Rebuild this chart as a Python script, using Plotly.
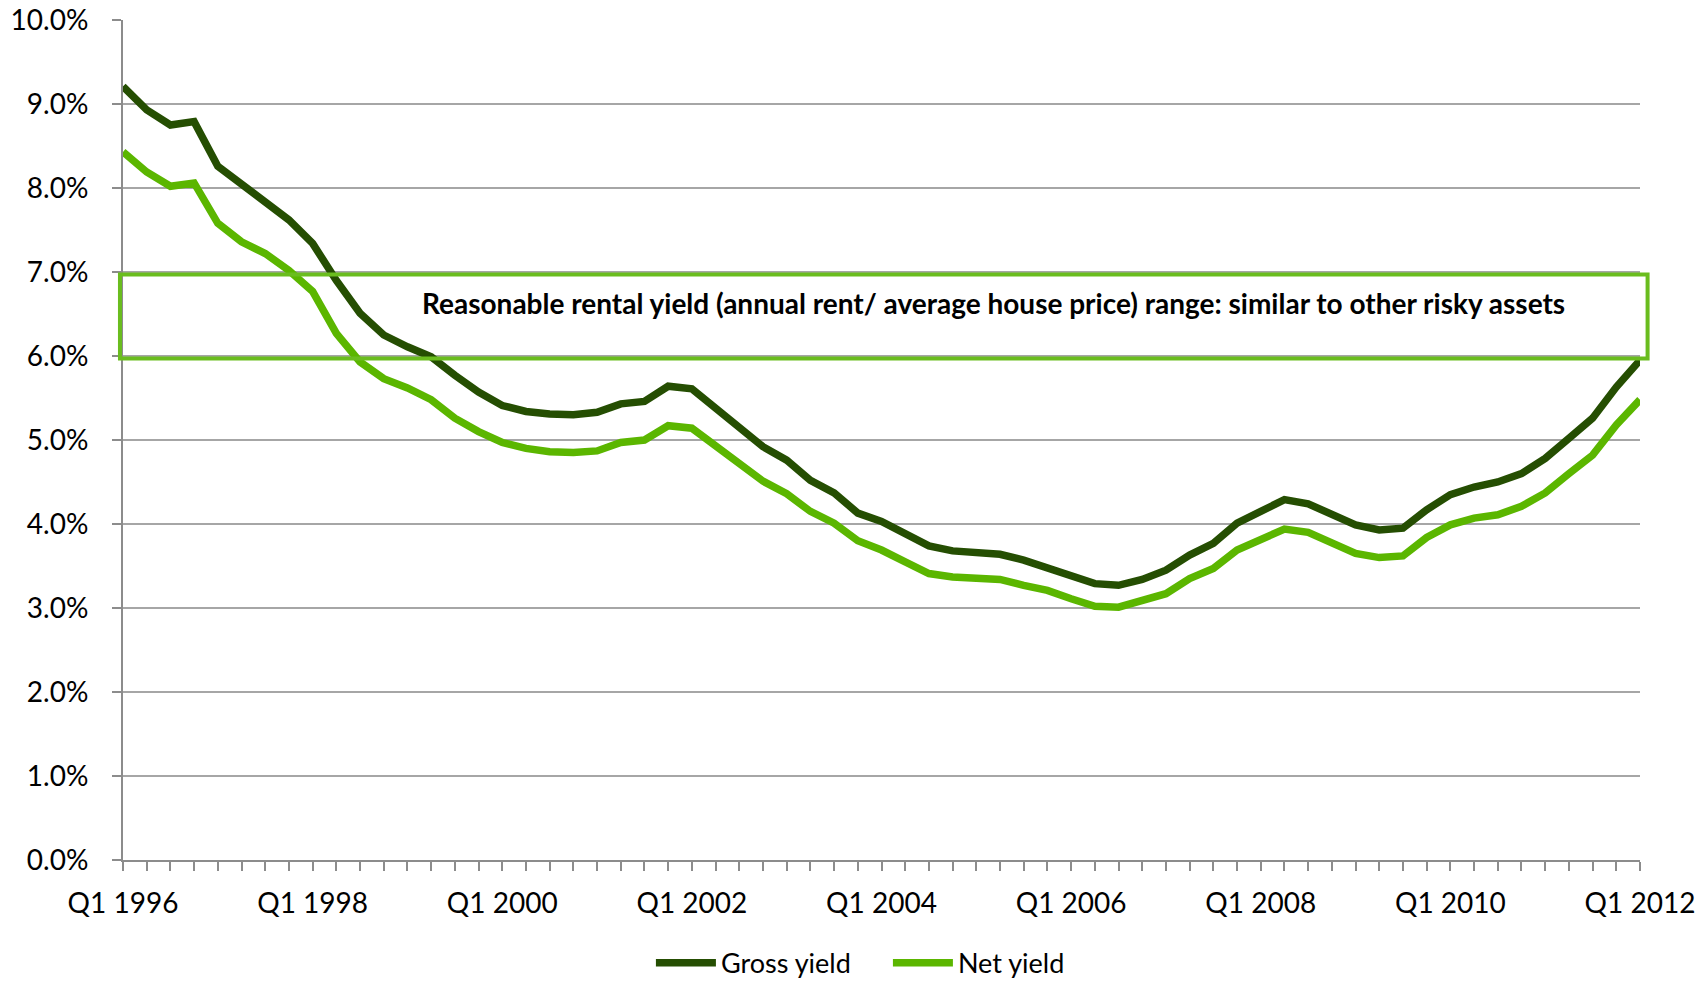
import plotly.graph_objects as go

quarters = list(range(65))
tick_positions = [0, 8, 16, 24, 32, 40, 48, 56, 64]
tick_labels = ["Q1 1996", "Q1 1998", "Q1 2000", "Q1 2002", "Q1 2004",
               "Q1 2006", "Q1 2008", "Q1 2010", "Q1 2012"]

gross_yield = [9.21, 8.93, 8.75, 8.79, 8.26, 8.04, 7.84, 7.62, 7.34, 6.90,
               6.51, 6.25, 6.11, 5.99, 5.77, 5.57, 5.41, 5.34, 5.31, 5.30,
               5.33, 5.43, 5.46, 5.64, 5.61, 5.38, 5.16, 4.92, 4.76, 4.52,
               4.37, 4.13, 4.03, 3.89, 3.74, 3.68, 3.66, 3.64, 3.57, 3.48,
               3.38, 3.29, 3.27, 3.34, 3.45, 3.63, 3.77, 4.01, 4.15, 4.29,
               4.24, 4.11, 3.99, 3.93, 3.95, 4.17, 4.35, 4.44, 4.50, 4.60,
               4.78, 5.02, 5.26, 5.63, 5.95]

net_yield = [8.43, 8.19, 8.02, 8.06, 7.58, 7.36, 7.22, 7.02, 6.77, 6.27,
             5.93, 5.73, 5.62, 5.48, 5.26, 5.10, 4.97, 4.90, 4.86, 4.85,
             4.87, 4.97, 5.00, 5.17, 5.14, 4.92, 4.72, 4.51, 4.36, 4.15,
             4.01, 3.80, 3.69, 3.55, 3.41, 3.37, 3.36, 3.34, 3.27, 3.21,
             3.11, 3.02, 3.01, 3.08, 3.17, 3.35, 3.47, 3.69, 3.81, 3.94,
             3.90, 3.77, 3.65, 3.60, 3.62, 3.84, 3.99, 4.07, 4.11, 4.21,
             4.37, 4.60, 4.82, 5.18, 5.48]

range_low, range_high = 6.0, 7.0
range_text = "Reasonable rental yield (annual rent/ average house price) range: similar to other risky assets"

FONT = "Lato, 'Open Sans', sans-serif"
GRID = "#a6a6a6"
AXIS = "#8c8c8c"

fig = go.Figure()
fig.add_trace(go.Scatter(x=quarters, y=gross_yield, mode="lines", name="Gross yield",
                         line=dict(color="#254e02", width=7.5)))
fig.add_trace(go.Scatter(x=quarters, y=net_yield, mode="lines", name="Net yield",
                         line=dict(color="#5bb600", width=7.5)))

fig.add_shape(type="rect", xref="paper", yref="y",
              x0=-0.002, x1=1.005, y0=range_low - 0.03, y1=range_high - 0.03,
              line=dict(color="#6abd1e", width=4), fillcolor="rgba(0,0,0,0)")
fig.add_annotation(xref="paper", yref="y", x=0.574, y=6.63, text="<b>" + range_text + "</b>",
                   showarrow=False, font=dict(family=FONT, size=28, color="#000000"))

fig.update_layout(
    width=1708, height=981,
    margin=dict(l=123, r=68, t=20, b=121, autoexpand=False),
    paper_bgcolor="white", plot_bgcolor="white",
    font=dict(family=FONT, size=28, color="#000000"),
    showlegend=True,
    legend=dict(orientation="h", x=0.348, xanchor="left", y=-0.123, yanchor="middle",
                font=dict(family=FONT, size=27), itemwidth=60, tracegroupgap=0,
                entrywidth=162, entrywidthmode="pixels",
                bgcolor="rgba(0,0,0,0)"),
    xaxis=dict(range=[0, 64], tickmode="array", tickvals=tick_positions, ticktext=tick_labels,
               automargin=False,
               showgrid=False, zeroline=False, showline=True, linecolor=AXIS, linewidth=2,
               ticks="outside", ticklen=9, tickwidth=1.5, tickcolor=AXIS,
               ticklabelstandoff=8,
               tickfont=dict(family=FONT, size=28),
               minor=dict(ticks="outside", dtick=1, tick0=0, ticklen=9, tickwidth=1.5,
                          tickcolor=AXIS, showgrid=False)),
    yaxis=dict(range=[0, 10], dtick=1, tick0=0, tickformat=".1f", ticksuffix="%",
               automargin=False,
               showgrid=True, gridcolor=GRID, gridwidth=1.5, zeroline=False,
               showline=True, linecolor=AXIS, linewidth=2,
               ticks="outside", ticklen=9, tickwidth=1.5, tickcolor=AXIS,
               ticklabelstandoff=18, tickfont=dict(family=FONT, size=28)),
)

fig.write_html("out.html", config={"displayModeBar": False},
               post_script="document.body.style.margin='0';")
